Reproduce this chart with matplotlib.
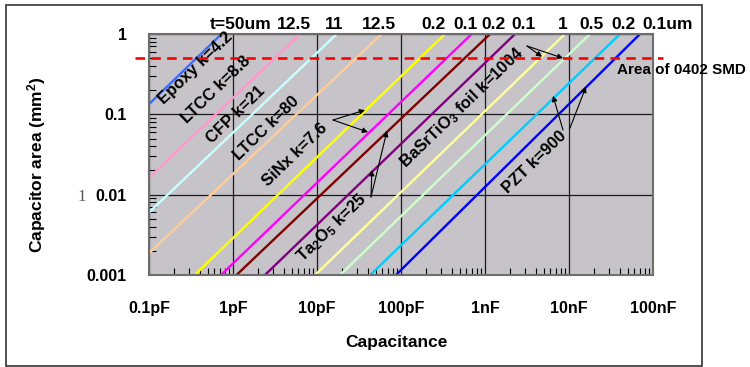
import matplotlib
matplotlib.use('Agg')
import matplotlib.pyplot as plt
from matplotlib.patches import Rectangle
from matplotlib.ticker import LogLocator, NullFormatter

# one line per dielectric / thickness, endpoints (C in F, area in mm^2)
materials = ['Epoxy', 'LTCC', 'CFP', 'LTCC', 'SiNx', 'SiNx', 'Ta2O5', 'Ta2O5',
             'BaSrTiO3', 'BaSrTiO3', 'PZT', 'PZT']
thickness_labels = ['t=50um', '12.5', '11', '12.5', '0.2', '0.1', '0.2', '0.1',
                    '1', '0.5', '0.2', '0.1um']
cap_start = [1e-13, 1e-13, 1e-13, 1e-13, 3.5e-13, 7.2e-13, 1.1e-12, 2.4e-12,
             9.5e-12, 1.88e-11, 4.3e-11, 8.7e-11]
area_start = [0.134, 0.0162, 0.006, 0.00187, 0.001, 0.001, 0.001, 0.001,
              0.001, 0.001, 0.001, 0.001]
cap_end = [7.3e-13, 6.3e-12, 1.72e-11, 5.9e-11, 3.34e-10, 6.95e-10, 1.15e-9, 2.28e-9,
           8.96e-9, 1.78e-8, 4.05e-8, 7.0e-8]
area_end = [1, 1, 1, 1, 1, 1, 1, 1, 1, 1, 1, 1]

smd_area = 0.5  # 0402 footprint, mm^2

x_ticks = [1e-13, 1e-12, 1e-11, 1e-10, 1e-9, 1e-8, 1e-7]
x_ticklabels = ['0.1pF', '1pF', '10pF', '100pF', '1nF', '10nF', '100nF']
y_ticks = [0.001, 0.01, 0.1, 1]
y_ticklabels = ['0.001', '0.01', '0.1', '1']

colors = ['#3d6bff', '#ff99cc', '#c8ffff', '#ffcc99', '#ffff00', '#ff00ff',
          '#800000', '#800080', '#ffff99', '#ccffcc', '#00ccff', '#0000ff']

plt.rcParams['font.family'] = ['Liberation Sans', 'DejaVu Sans']
plt.rcParams['font.weight'] = 'bold'
plt.rcParams['mathtext.fontset'] = 'custom'
plt.rcParams['mathtext.rm'] = 'Liberation Sans:bold'
plt.rcParams['mathtext.it'] = 'Liberation Sans:bold'
plt.rcParams['mathtext.default'] = 'rm'

W, H = 750, 367
AX_L, AX_R, AX_T, AX_B = 149, 653, 34, 275

fig = plt.figure(figsize=(7.5, 3.67), dpi=100)
ax = fig.add_axes([AX_L / W, 1 - AX_B / H, (AX_R - AX_L) / W, (AX_B - AX_T) / H])


def px(x, y):
    # pixel position in the picture -> axes fraction
    return (x - AX_L) / (AX_R - AX_L), 1 - (y - AX_T) / (AX_B - AX_T)


ax.set_facecolor('#c6c4c8')
ax.set_xscale('log')
ax.set_yscale('log')
ax.set_xlim(1e-13, 1e-7)
ax.set_ylim(0.001, 1)

for i in range(len(materials)):
    ax.plot([cap_start[i], cap_end[i]], [area_start[i], area_end[i]],
            color=colors[i], lw=1.7, solid_capstyle='butt')

# red dashed 0402 line, runs a bit past the plot area
ax.plot([6.8e-14, 1.31e-7], [smd_area, smd_area], color='#ff0000', lw=1.9,
        linestyle=(0, (3.6, 2.4)), clip_on=False, zorder=5)
fig.text(617 / W, 1 - 70 / H, 'Area of 0402 SMD', fontsize=11, fontweight='bold',
         ha='left', va='center')

ax.set_xticks(x_ticks)
ax.set_xticklabels(x_ticklabels)
ax.set_yticks(y_ticks)
ax.set_yticklabels(y_ticklabels)
ax.xaxis.set_minor_locator(LogLocator(base=10, subs=range(2, 10), numticks=20))
ax.yaxis.set_minor_locator(LogLocator(base=10, subs=range(2, 10), numticks=20))
ax.xaxis.set_minor_formatter(NullFormatter())
ax.yaxis.set_minor_formatter(NullFormatter())
ax.tick_params(axis='x', which='major', length=0, pad=19, labelsize=11.5)
ax.tick_params(axis='y', which='major', length=0, pad=16, labelsize=11.5)
ax.tick_params(which='minor', direction='in', length=5, width=0.8, color='black')
ax.tick_params(axis='x', which='minor', top=False)
ax.tick_params(axis='y', which='minor', right=False)

ax.grid(True, which='major', color='#1a1a1a', lw=0.9)
ax.set_axisbelow(True)
for side in ax.spines.values():
    side.set_color('#6e6e6e')
    side.set_linewidth(1.5)

# thickness labels along the top
top_pos = [241, 294, 334, 379, 434, 465, 493, 524, 563, 591, 623, 668]
for lab, xp in zip(thickness_labels, top_pos):
    fx, fy = px(xp, 25)
    ax.text(fx, fy, lab, transform=ax.transAxes, fontsize=12.5, fontweight='bold',
            ha='center', va='center')

# material names written along the lines
names = [('Epoxy k=4.2', 195, 68), ('LTCC k=8.8', 216, 90), ('CFP k=21', 236, 115),
         ('LTCC k=80', 266, 128), ('SiNx k=7.6', 295, 155),
         ('Ta$_2$O$_5$ k=25', 332, 228), ('BaSrTiO$_3$ foil k=1004', 462, 108),
         ('PZT k=900', 534, 162)]
for txt, xp, yp in names:
    fx, fy = px(xp, yp)
    ax.text(fx, fy, txt, transform=ax.transAxes, fontsize=12, fontweight='bold',
            rotation=44, rotation_mode='anchor', ha='center', va='center')

arrow = dict(arrowstyle='-|>', lw=0.8, color='black', mutation_scale=8,
             shrinkA=0, shrinkB=0)
pointers = [((333, 120), (3.73e-11, 0.113)), ((333, 120), (4.05e-11, 0.06)),
            ((371, 197), (6.8e-11, 0.062)), ((371, 197), (4.5e-11, 0.0202)),
            ((527, 46), (4.78e-9, 0.52)), ((527, 46), (8.5e-9, 0.5)),
            ((563, 130), (6.45e-9, 0.17)), ((570, 128), (1.59e-8, 0.22))]
for tail, tip in pointers:
    ax.annotate('', xy=tip, xycoords='data', xytext=px(*tail),
                textcoords='axes fraction', arrowprops=arrow)

fig.text(37 / W, 1 - 165 / H, 'Capacitor area (mm$^2$)', rotation=90, fontsize=12.5,
         fontweight='bold', ha='center', va='center')
fig.text(396 / W, 1 - 342 / H, 'Capacitance', fontsize=12.5, fontweight='bold',
         ha='center', va='center')
fig.text(82 / W, 1 - 197 / H, '1', fontsize=12, fontweight='normal', color='#555555',
         family='Liberation Serif', ha='center', va='center')

fig.patches.append(Rectangle((6 / W, 1 - 366 / H), 696 / W, 361 / H,
                             transform=fig.transFigure, fill=False,
                             ec='#333333', lw=1.2))

fig.savefig('out.png', dpi=100)
